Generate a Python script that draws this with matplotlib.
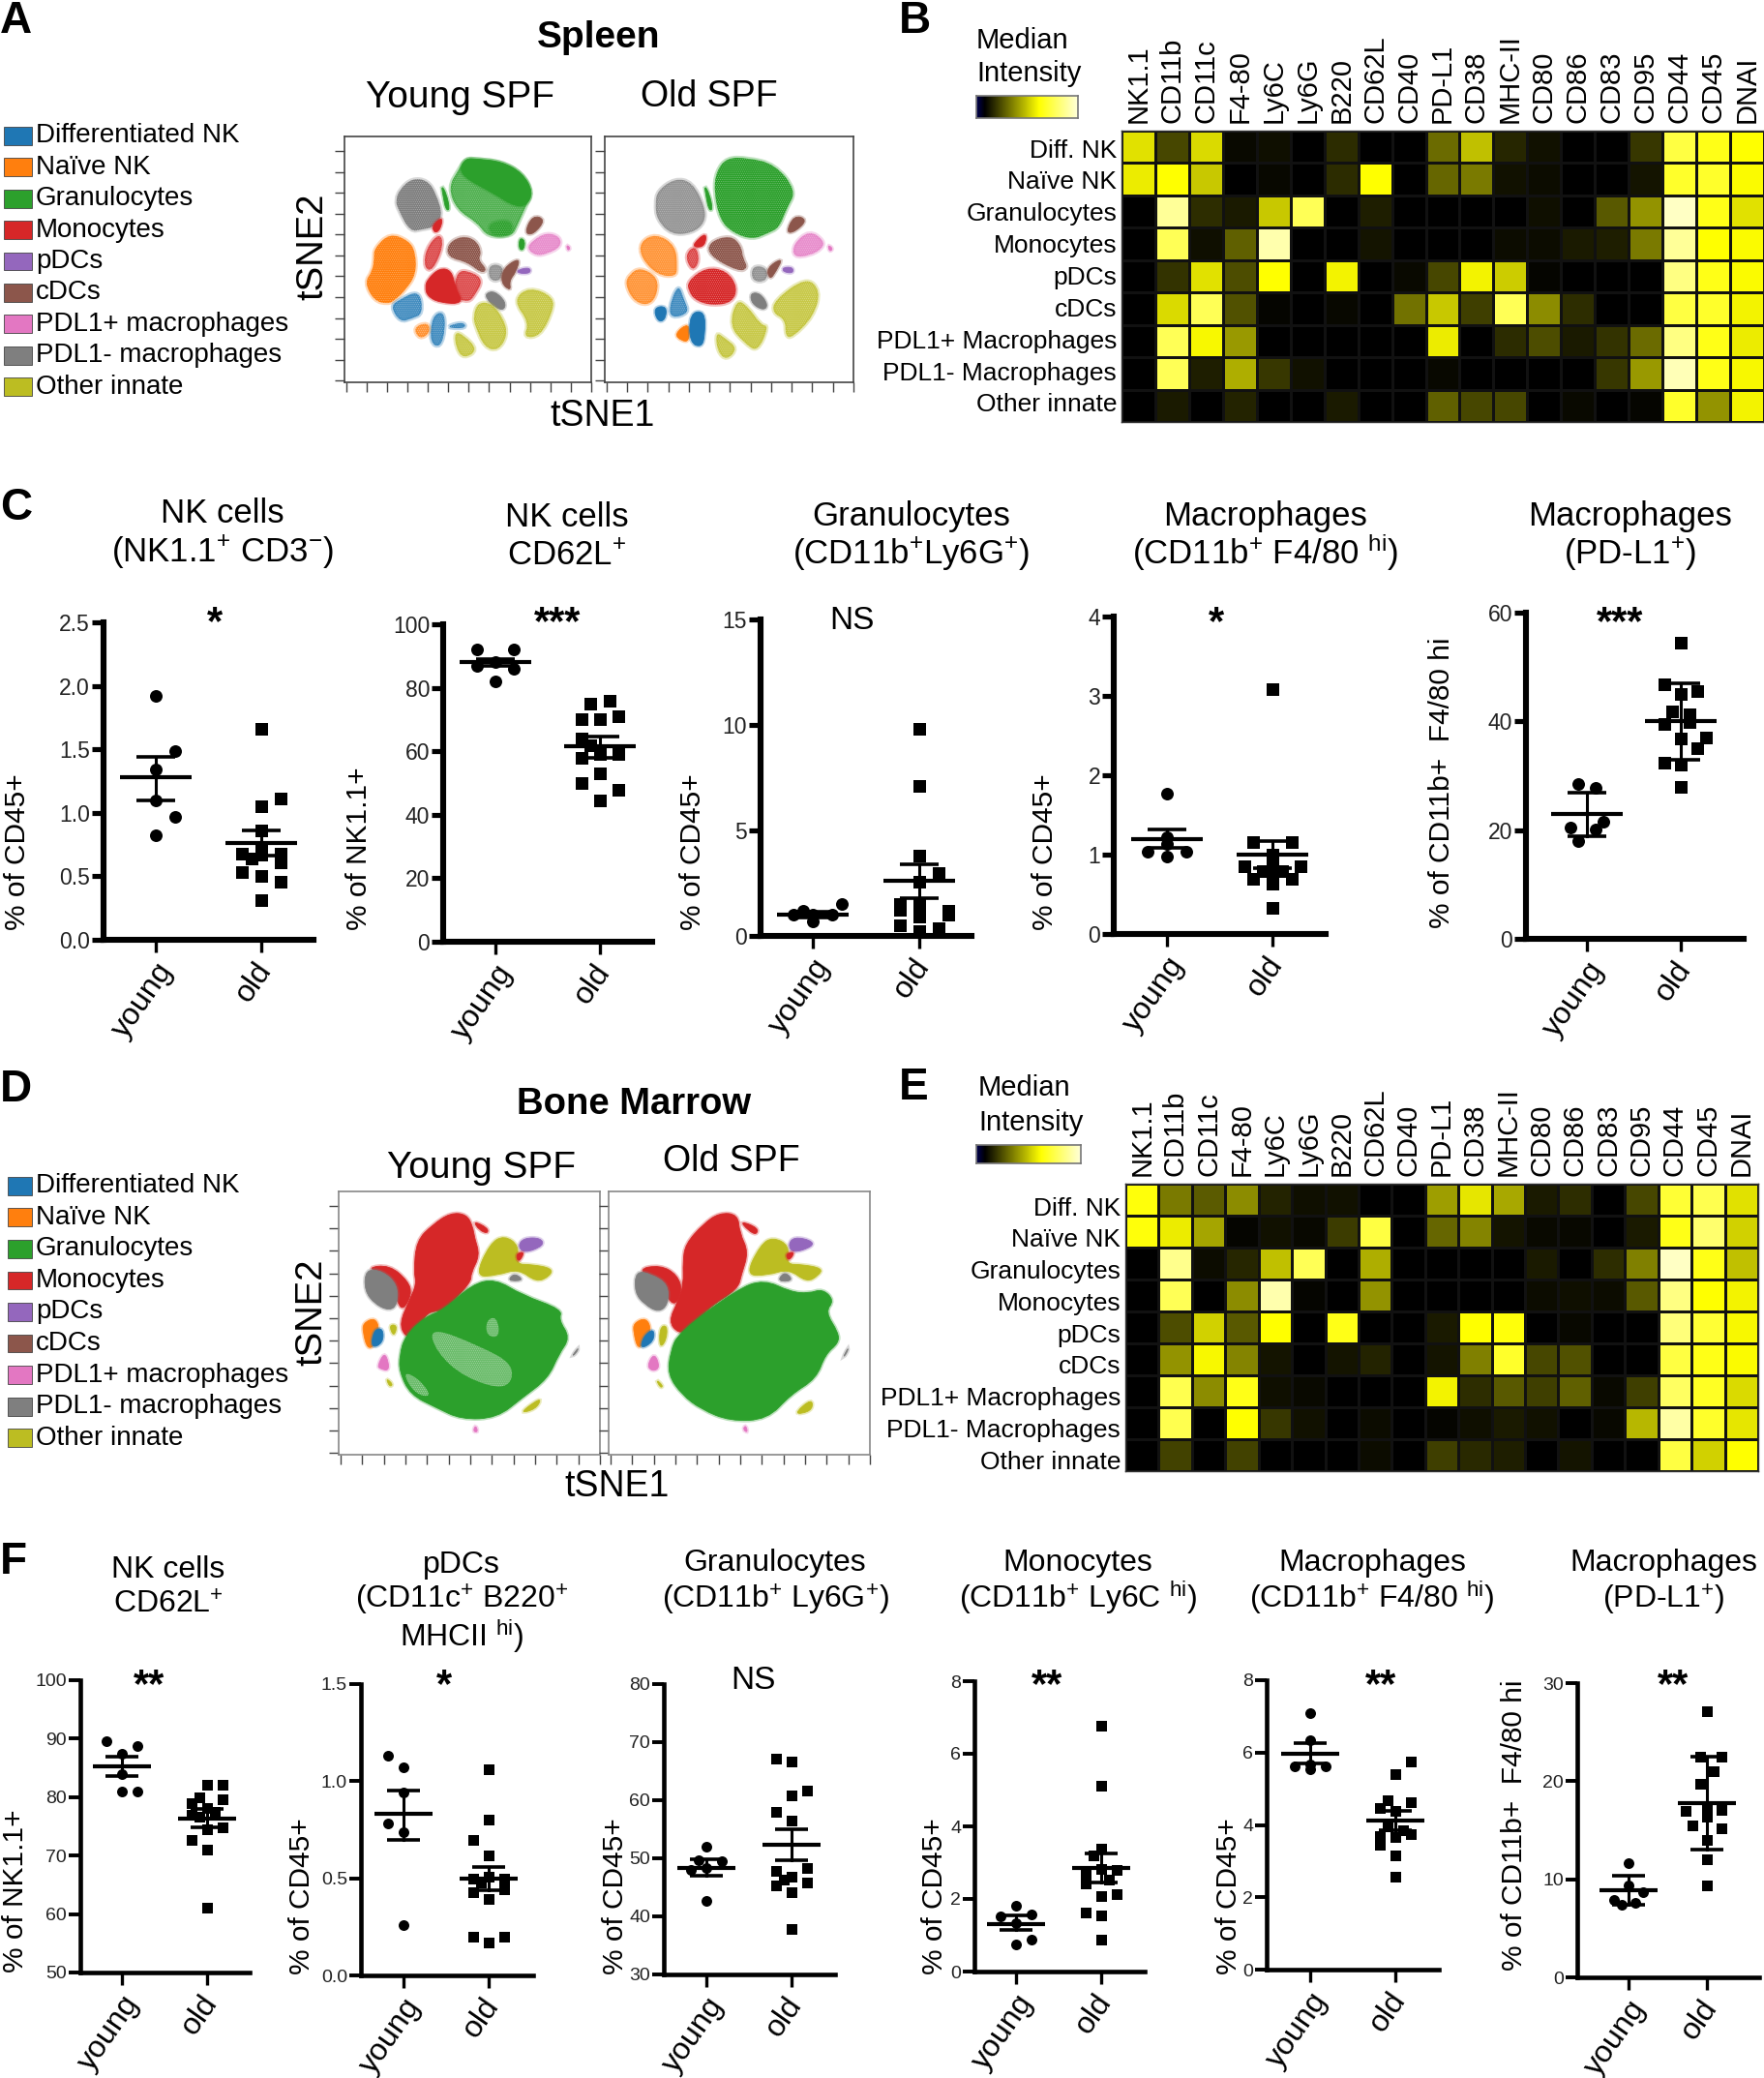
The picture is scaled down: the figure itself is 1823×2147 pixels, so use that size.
import numpy as np
import matplotlib
matplotlib.use('Agg')
import matplotlib.pyplot as plt
from matplotlib.colors import LinearSegmentedColormap
from matplotlib.patches import PathPatch
from matplotlib.path import Path
from matplotlib.transforms import ScaledTranslation

W, H = 1823, 2147
plt.rcParams['font.family'] = ['Liberation Sans', 'DejaVu Sans']
plt.rcParams['mathtext.fontset'] = 'custom'
plt.rcParams['mathtext.rm'] = 'Liberation Sans'
plt.rcParams['mathtext.default'] = 'rm'
plt.rcParams['hatch.linewidth'] = 0.1

# ---------- legend / heatmap labels
legend_labels = ['Differentiated NK', 'Naïve NK', 'Granulocytes', 'Monocytes', 'pDCs', 'cDCs',
                 'PDL1+ macrophages', 'PDL1- macrophages', 'Other innate']
cluster_colors = ['#1f77b4', '#ff7f0e', '#2ca02c', '#d62728', '#9467bd', '#8c564b', '#e377c2', '#7f7f7f', '#bcbd22']
markers = ['NK1.1', 'CD11b', 'CD11c', 'F4-80', 'Ly6C', 'Ly6G', 'B220', 'CD62L', 'CD40', 'PD-L1', 'CD38', 'MHC-II',
           'CD80', 'CD86', 'CD83', 'CD95', 'CD44', 'CD45', 'DNAI']
row_labels = ['Diff. NK', 'Naïve NK', 'Granulocytes', 'Monocytes', 'pDCs', 'cDCs',
              'PDL1+ Macrophages', 'PDL1- Macrophages', 'Other innate']

heat_b = [
    [.88, .28, .85, .04, .06, 0, .17, 0, 0, .42, .75, .15, .07, 0, 0, .22, 1.15, 1.05, 1.0],
    [.92, 1.0, .78, 0, .03, 0, .17, 1.0, 0, .40, .48, .07, .05, 0, 0, .08, 1.1, 1.1, .98],
    [0, 1.35, .18, .1, .78, 1.2, 0, .12, 0, 0, 0, 0, .06, 0, .35, .58, 1.45, 1.05, .88],
    [0, 1.2, .06, .38, 1.4, 0, 0, .08, 0, 0, 0, .05, .05, .1, .12, .48, 1.35, 1.0, .98],
    [0, .2, .88, .3, 1.0, 0, .95, 0, .04, .28, .95, .8, .02, 0, 0, 0, 1.3, 1.05, .98],
    [0, .85, 1.2, .32, .02, 0, .03, 0, .45, .78, .25, 1.2, .55, .18, 0, 0, 1.15, 1.1, .95],
    [0, 1.2, .97, .6, 0, 0, 0, 0, 0, .92, 0, .17, .3, .1, .2, .42, 1.3, 1.05, .92],
    [0, 1.2, .12, .68, .22, .07, 0, 0, 0, .03, 0, 0, 0, 0, .22, .6, 1.42, 1.05, .97],
    [0, .1, 0, .14, 0, 0, .1, 0, 0, .38, .28, .28, 0, .04, 0, .02, 1.1, .58, .95],
]
heat_e = [
    [1.02, .48, .36, .55, .14, .06, .07, 0, 0, .62, .9, .66, .1, .18, 0, .28, 1.12, 1.18, .88],
    [1.02, .92, .65, .02, .07, .03, .24, 1.15, 0, .4, .52, .08, .04, .03, 0, .1, 1.05, 1.25, .82],
    [0, 1.32, .05, .15, .75, 1.2, 0, .68, 0, 0, 0, 0, .1, 0, .18, .5, 1.45, 1.05, .75],
    [0, 1.2, 0, .55, 1.4, .02, 0, .58, 0, 0, 0, 0, .05, .06, .05, .35, 1.3, 1.0, .95],
    [0, .3, .82, .35, 1.0, 0, 1.05, 0, 0, .1, 1.0, 1.02, 0, .03, 0, 0, 1.28, 1.12, .97],
    [0, .58, .97, .52, .08, 0, .08, .14, 0, .08, .5, 1.1, .28, .32, 0, 0, 1.15, 1.05, .98],
    [0, 1.18, .55, 1.05, .06, .04, 0, 0, 0, .95, .18, .35, .25, .38, .04, .25, 1.22, 1.08, .85],
    [0, 1.18, 0, 1.0, .22, .07, 0, .05, 0, .02, .06, .1, .07, 0, .03, .72, 1.38, 1.1, .9],
    [0, .26, 0, .26, 0, 0, 0, .05, 0, .25, .16, .12, 0, .08, 0, 0, 1.15, .82, 1.0],
]

# ---------- tSNE cluster outlines: (cluster index, texture, outline)
# texture: 0 solid, 2 lightly speckled, 1 sparse
spleen_young = [
    (2, 1, [(345, 220), (375, 165), (395, 130), (430, 132), (500, 140), (560, 175), (590, 235), (570, 280), (545, 340), (530, 372), (460, 375), (430, 330), (370, 290)]),
    (2, 0, [(378, 165), (395, 130), (430, 132), (500, 140), (560, 175), (592, 235), (570, 280), (530, 275), (480, 240), (400, 195)]),
    (2, 2, [(460, 330), (530, 320), (530, 370), (470, 372)]),
    (2, 0, [(325, 212), (340, 240), (350, 290), (338, 290), (330, 245)]),
    (2, 0, [(552, 376), (568, 385), (564, 415), (550, 412)]),
    (7, 2, [(205, 225), (240, 192), (285, 198), (310, 240), (330, 310), (300, 345), (270, 350), (235, 358), (200, 290), (192, 260)]),
    (7, 0, [(455, 548), (480, 542), (512, 575), (507, 602), (480, 592), (456, 565)]),
    (1, 2, [(130, 410), (175, 362), (230, 385), (250, 420), (252, 490), (220, 540), (190, 570), (170, 582), (130, 572), (102, 515), (125, 480), (130, 440)]),
    (0, 1, [(178, 590), (200, 570), (262, 538), (272, 612), (240, 627), (205, 638)]),
    (0, 1, [(298, 620), (332, 603), (337, 660), (322, 718), (292, 702)]),
    (1, 1, [(243, 655), (287, 638), (292, 672), (262, 692)]),
    (3, 1, [(370, 475), (420, 485), (445, 510), (425, 550), (405, 578), (360, 560)]),
    (3, 0, [(285, 505), (320, 470), (355, 478), (365, 530), (390, 582), (320, 578), (285, 558), (278, 530)]),
    (3, 0, [(298, 338), (330, 310), (322, 352), (305, 362)]),
    (3, 1, [(280, 410), (320, 360), (332, 400), (300, 480), (275, 470)]),
    (5, 2, [(343, 395), (385, 370), (425, 383), (442, 420), (432, 445), (458, 475), (442, 487), (400, 452), (343, 437)]),
    (5, 0, [(590, 306), (628, 320), (592, 367), (566, 362)]),
    (7, 1, [(463, 458), (507, 463), (497, 512), (463, 507)]),
    (5, 0, [(505, 470), (554, 437), (542, 482), (522, 510), (527, 542), (498, 517)]),
    (4, 0, [(546, 476), (582, 468), (584, 487), (548, 487)]),
    (6, 1, [(590, 385), (630, 360), (670, 373), (672, 405), (630, 427), (600, 432), (573, 410)]),
    (6, 0, [(688, 398), (700, 408), (692, 417)]),
    (8, 1, [(430, 578), (470, 578), (507, 630), (517, 680), (490, 727), (450, 717), (423, 650), (418, 620)]),
    (8, 1, [(533, 570), (580, 528), (652, 560), (647, 610), (612, 682), (563, 687), (580, 640)]),
    (8, 1, [(363, 668), (390, 678), (432, 725), (390, 752), (368, 720)]),
    (0, 1, [(348, 648), (390, 638), (397, 657), (350, 657)]),
]
spleen_old = [
    (2, 2, [(1120, 170), (1150, 128), (1210, 128), (1290, 148), (1352, 230), (1322, 290), (1302, 345), (1270, 362), (1225, 382), (1170, 362), (1130, 322), (1113, 230)]),
    (2, 0, [(1085, 212), (1100, 240), (1110, 290), (1098, 290), (1090, 245)]),
    (7, 1, [(950, 230), (1000, 192), (1050, 203), (1087, 280), (1087, 330), (1050, 362), (990, 367), (948, 320), (943, 270)]),
    (7, 0, [(1218, 548), (1247, 548), (1270, 585), (1257, 602), (1223, 582)]),
    (1, 1, [(898, 390), (945, 363), (1002, 400), (1007, 470), (1002, 497), (950, 492), (903, 440)]),
    (1, 1, [(868, 490), (900, 468), (952, 500), (947, 560), (920, 587), (880, 572), (856, 520)]),
    (1, 0, [(998, 675), (1042, 638), (1042, 697), (1020, 697)]),
    (0, 0, [(1043, 610), (1087, 603), (1087, 680), (1077, 717), (1043, 702)]),
    (0, 0, [(938, 593), (977, 588), (972, 632), (950, 637)]),
    (0, 1, [(983, 590), (1010, 518), (1027, 570), (1042, 610), (990, 627)]),
    (3, 2, [(1038, 510), (1090, 468), (1150, 478), (1182, 530), (1167, 577), (1110, 587), (1060, 572), (1038, 540)]),
    (3, 0, [(1053, 395), (1092, 358), (1087, 402), (1060, 407)]),
    (3, 1, [(1028, 430), (1060, 398), (1072, 450), (1050, 482)]),
    (5, 2, [(1098, 390), (1160, 368), (1192, 400), (1197, 440), (1212, 470), (1185, 482), (1098, 432)]),
    (5, 0, [(1345, 306), (1384, 320), (1350, 357), (1321, 362)]),
    (7, 1, [(1223, 463), (1267, 468), (1267, 512), (1223, 512)]),
    (5, 0, [(1265, 470), (1314, 437), (1292, 482), (1275, 507)]),
    (6, 1, [(1343, 395), (1390, 353), (1432, 385), (1427, 410), (1390, 432), (1343, 437)]),
    (6, 0, [(1443, 398), (1458, 410), (1448, 420)]),
    (4, 0, [(1313, 468), (1342, 468), (1342, 487), (1313, 482)]),
    (8, 1, [(1178, 568), (1210, 588), (1250, 648), (1272, 650), (1240, 732), (1200, 702), (1158, 650)]),
    (8, 1, [(1288, 570), (1380, 498), (1422, 540), (1402, 620), (1340, 687), (1320, 682), (1320, 630), (1283, 610)]),
    (8, 1, [(1118, 668), (1145, 688), (1182, 720), (1150, 757), (1123, 730)]),
]
marrow_young = [
    (3, 0, [(245, 215), (290, 165), (340, 128), (385, 133), (402, 170), (407, 205), (422, 260), (397, 315), (397, 345), (320, 432), (300, 432), (270, 442), (240, 512), (213, 512), (198, 470), (225, 400), (245, 350), (238, 310)]),
    (3, 0, [(403, 153), (444, 175), (444, 193), (420, 182)]),
    (3, 0, [(106, 298), (170, 290), (222, 340), (232, 380), (207, 432), (190, 400), (160, 320)]),
    (7, 0, [(103, 303), (150, 308), (192, 350), (192, 412), (170, 432), (130, 412), (100, 370)]),
    (2, 0, [(320, 430), (400, 350), (465, 333), (540, 383), (652, 428), (642, 460), (674, 515), (642, 567), (612, 642), (540, 702), (470, 764), (370, 769), (300, 732), (228, 692), (198, 622), (198, 570), (213, 510), (270, 450)]),
    (8, 0, [(408, 327), (450, 223), (490, 198), (532, 230), (522, 288), (565, 288), (624, 300), (618, 324), (580, 344), (530, 302), (470, 322)]),
    (4, 0, [(528, 230), (545, 206), (592, 206), (601, 230), (545, 254)]),
    (3, 0, [(522, 255), (548, 248), (530, 284)]),
    (1, 0, [(96, 470), (130, 453), (142, 490), (127, 542), (108, 549), (96, 500)]),
    (0, 0, [(126, 490), (152, 486), (152, 532), (118, 549)]),
    (8, 0, [(168, 476), (192, 476), (182, 514)]),
    (6, 0, [(136, 604), (155, 561), (167, 590), (167, 618), (145, 612)]),
    (8, 0, [(533, 750), (575, 713), (594, 706), (577, 737)]),
    (8, 0, [(160, 640), (180, 660), (170, 668)]),
    (7, 0, [(678, 574), (698, 544), (692, 562)]),
    (6, 0, [(403, 806), (410, 786), (417, 808)]),
    (7, 0, [(503, 332), (520, 316), (544, 337), (510, 340)]),
]
marrow_young_holes = [
    [(280, 480), (420, 540), (520, 600), (500, 680), (380, 640), (300, 560)],
    [(205, 620), (250, 640), (290, 700), (240, 690)],
    [(440, 460), (470, 450), (478, 515), (440, 510)],
]
marrow_old = [
    (3, 0, [(995, 225), (1045, 163), (1090, 128), (1142, 133), (1147, 190), (1172, 250), (1152, 320), (1142, 365), (1060, 422), (1005, 492), (975, 502), (948, 465), (975, 400), (990, 350), (988, 280)]),
    (3, 0, [(1148, 153), (1199, 175), (1194, 197), (1170, 182)]),
    (3, 0, [(858, 303), (925, 290), (972, 320), (987, 370), (962, 422), (930, 360)]),
    (7, 0, [(856, 308), (900, 318), (947, 350), (947, 412), (920, 437), (880, 412), (853, 375)]),
    (2, 0, [(975, 500), (1140, 365), (1215, 335), (1290, 373), (1340, 378), (1380, 364), (1412, 400), (1387, 435), (1424, 500), (1424, 532), (1387, 567), (1362, 642), (1290, 692), (1225, 769), (1120, 774), (1040, 738), (985, 692), (946, 630), (953, 560)]),
    (8, 0, [(1163, 322), (1205, 228), (1240, 203), (1287, 230), (1277, 288), (1320, 288), (1379, 300), (1369, 322), (1335, 344), (1285, 302), (1225, 322)]),
    (4, 0, [(1283, 225), (1300, 203), (1347, 213), (1354, 232), (1295, 254)]),
    (3, 0, [(1275, 255), (1303, 248), (1285, 279)]),
    (1, 0, [(850, 470), (885, 453), (900, 490), (882, 527), (862, 552), (850, 500)]),
    (0, 0, [(878, 510), (907, 486), (907, 527), (868, 552)]),
    (8, 0, [(923, 483), (944, 476), (942, 522), (923, 549)]),
    (6, 0, [(887, 604), (908, 561), (924, 607), (905, 620)]),
    (8, 0, [(1303, 747), (1349, 704), (1352, 737), (1320, 752)]),
    (8, 0, [(912, 643), (933, 665), (925, 671)]),
    (7, 0, [(1436, 578), (1452, 544), (1448, 562)]),
    (6, 0, [(1156, 800), (1164, 786), (1170, 810)]),
    (7, 0, [(1256, 332), (1275, 311), (1297, 337), (1265, 342)]),
]

# ---------- dot plots: values and sideways jitter steps, one pair per group
c1_young = [1.92, 1.49, 1.34, 1.10, 0.97, 0.82]
c1_young_dx = [0, 1, 0, 0, 1, 0]
c1_old = [1.66, 1.11, 1.05, .86, .72, .68, .68, .67, .64, .61, .53, .50, .46, .31]
c1_old_dx = [0, 1, 0, 0, 0, -1, 1, 0, -.5, 1, -1, 0, 1, 0]
c1_stats = [(1.28, 1.44, 1.10), (.76, .86, .66)]

c2_young = [92, 92, 87, 88, 86, 82]
c2_young_dx = [-1, 1, -1, 0, 1, 0]
c2_old = [76, 75, 70, 70, 71, 64, 58, 59, 59, 62, 53, 50, 48, 44.6]
c2_old_dx = [.5, -.5, -1, 0, 1, -1, -1, 0, 1, -.5, 0, -1, 1, 0]
c2_stats = [(88, 89, 87), (61.5, 64.5, 58)]

c3_young = [1.5, 1.2, .7, 1.0, 1.0, 1.0]
c3_young_dx = [1.5, -.5, 0, -1, 1, 0]
c3_old = [9.8, 7.1, 3.8, 3.0, 2.55, 1.5, 1.5, 1.2, .9, .5, 1.0, .25, .35, 1.25]
c3_old_dx = [0, 0, 0, 1, 0, -1, 0, 1.5, 0, -1, 1.5, 0, 1, -1]
c3_stats = [(1.0, 1.15, .85), (2.6, 3.4, 1.8)]

c4_young = [1.77, 1.22, 1.04, 1.04, .98, 1.14]
c4_young_dx = [0, 0, -1, 1, 0, 0]
c4_old = [3.08, 1.16, 1.16, 1.0, .85, .85, .87, .79, .79, .69, .69, .63, .33, .75]
c4_old_dx = [0, -1, 1, 0, -1.5, 1.5, 0, -.5, .5, -1, 1, 0, 0, 0]
c4_stats = [(1.2, 1.32, 1.08), (1.0, 1.17, .83)]

c5_young = [28.5, 27.8, 21.5, 20.5, 20.2, 18]
c5_young_dx = [-.5, .5, 1, -1, .5, -.5]
c5_old = [54.5, 46.8, 45.6, 45, 41.9, 41.3, 39.8, 39.5, 36.8, 37, 35, 32.4, 32, 28]
c5_old_dx = [0, -1, 1, 0, -.5, .5, .5, -1, 0, 1.5, 1, -1, 0, 0]
c5_stats = [(22.9, 26.8, 18.8), (40, 47, 33)]

f1_young = [89.6, 88.8, 87.5, 84, 80.9, 81]
f1_young_dx = [-1, 1, 0, 0, 0, 1]
f1_old = [82.2, 82.1, 79.6, 80, 79, 78.1, 77, 77.5, 76.7, 74.8, 74.5, 72.7, 71, 61.1]
f1_old_dx = [1, 0, 1, -.5, -1, 0, -1, .5, -.5, 1, 0, -1, 0, 0]
f1_stats = [(85.3, 87, 83.6), (76.4, 78, 74.8)]

f2_young = [1.13, 1.07, .94, .78, .74, .26]
f2_young_dx = [-1, 0, 0, -1, 0, 0]
f2_old = [1.06, .80, .70, .62, .50, .50, .51, .48, .445, .43, .395, .20, .20, .17]
f2_old_dx = [0, 0, -1, 0, -1, 1, 0, -.5, 1, -1, 0, -1, 1, 0]
f2_stats = [(.83, .95, .70), (.50, .56, .44)]

f3_young = [52, 49.5, 49.7, 48.3, 48, 42.7]
f3_young_dx = [0, 1, -.5, 0, -1, 0]
f3_old = [67.2, 66.7, 61.7, 60.9, 58, 56.5, 47.8, 48.3, 46.9, 45.8, 45.3, 46.4, 44.2, 37.9]
f3_old_dx = [-1, 0, 1, 0, -1, 0, -1, 1, 0, 1, -1, -.5, 0, 0]
f3_stats = [(48.3, 49.8, 47), (52.3, 55, 49.7)]

f4_young = [1.82, 1.58, 1.51, 1.33, .89, .74]
f4_young_dx = [0, 1, -1, 0, 1, 0]
f4_old = [6.78, 5.13, 3.38, 3.2, 2.8, 2.84, 2.67, 2.53, 2.42, 2.09, 2.13, 1.62, 1.56, .87]
f4_old_dx = [0, 0, 0, -.5, 1, 0, -1, .5, -1, 0, 1, -1, 0, 0]
f4_stats = [(1.32, 1.55, 1.15), (2.85, 3.25, 2.45)]

f5_young = [7.08, 6.34, 5.62, 5.54, 5.62, 5.67]
f5_young_dx = [0, 0, -1, 0, 1, 0]
f5_old = [5.76, 5.4, 4.69, 4.64, 4.46, 4.38, 3.97, 3.84, 3.75, 3.7, 3.66, 3.44, 3.17, 2.57]
f5_old_dx = [1, 0, -.5, 1, -1, 0, -.5, .5, 1, -1, 0, -1, 0, 0]
f5_stats = [(5.97, 6.25, 5.7), (4.13, 4.4, 3.85)]

f6_young = [11.6, 9.4, 8.7, 7.9, 7.4, 7.6]
f6_young_dx = [0, 0, 1, -1, -.5, .5]
f6_old = [27.1, 22.5, 22.5, 21, 19.7, 17, 17.1, 16.4, 15.5, 15.2, 14, 12, 9.4, 17.4]
f6_old_dx = [0, -.5, 1, .5, -.5, -1.5, 1, 0, -1, 1, 0, 0, 0, 0]
f6_stats = [(8.9, 10.4, 7.4), (17.8, 22.5, 13)]

groups = ['young', 'old']

fig = plt.figure(figsize=(W / 100, H / 100), dpi=100, facecolor='white')


def pax(x0, y0, x1, y1, **kw):
    return fig.add_axes([x0 / W, 1 - y1 / H, (x1 - x0) / W, (y1 - y0) / H], **kw)


def ctext(x, y, s, size, ha='center', weight='normal', color='black'):
    fig.text(x / W, 1 - (y + 0.36 * size * 100 / 72) / H, s, fontsize=size, ha=ha, va='baseline',
             fontweight=weight, color=color)


def rtext(x, y, s, size):
    fig.text(x / W, 1 - y / H, s, fontsize=size, rotation=90, ha='center', va='center')


def star(x, y, s):
    fig.text(x / W, 1 - (y + 20) / H, s, fontsize=30, ha='center', va='baseline', fontweight='bold')


# ---------- panel letters and headings
for s, x, y in [('A', 0, 17), ('B', 929, 17), ('C', 0, 521), ('D', 0, 1122), ('E', 929, 1120), ('F', 0, 1610)]:
    ctext(x, y, s, 33, ha='left', weight='bold')
ctext(619, 35, 'Spleen', 28, weight='bold')
ctext(655, 1137, 'Bone Marrow', 27.5, weight='bold')
ctext(475, 97, 'Young SPF', 28)
ctext(733, 97, 'Old SPF', 27)
ctext(498, 1203, 'Young SPF', 28)
ctext(756, 1197, 'Old SPF', 27)
ctext(623, 426, 'tSNE1', 27)
ctext(638, 1533, 'tSNE1', 27)
rtext(323, 255, 'tSNE2', 27.5)
rtext(322, 1356, 'tSNE2', 27.5)


# ---------- legends
def legend(ypx0, ypx1, x0):
    ax = pax(0, ypx0, 300, ypx1)
    ax.set_xlim(0, 300)
    ax.set_ylim(8.5, -0.5)
    ax.axis('off')
    ax.barh(range(9), [33 - x0] * 9, left=x0, height=0.58, color=cluster_colors, edgecolor='#444444', linewidth=0.6)
    for i, lab in enumerate(legend_labels):
        ax.text(37, i, lab, fontsize=20, va='center', ha='left', clip_on=False)


legend(140 - 16, 400 + 16, 4)
legend(1225 - 16, 1486 + 16, 8)


# ---------- tSNE maps
def blob(pts):
    """Closed smooth outline through the midpoints of the read points."""
    p = np.array(pts, float)
    mid = (p + np.roll(p, -1, axis=0)) / 2
    verts, codes = [mid[-1]], [Path.MOVETO]
    for a, b in zip(p, mid):
        verts += [a, b]
        codes += [Path.CURVE3, Path.CURVE3]
    return Path(verts, codes)


HATCH = {1: '.' * 8, 2: '.' * 8}
ALPHA = {1: .82, 2: 1.0}


def tsne(box, xlim, ylim, clusters, holes=(), edge='#444444'):
    ax = pax(*box)
    ax.set_xlim(*xlim)
    ax.set_ylim(*ylim)
    for c, tex, pts in clusters:
        path = blob(pts)
        col = cluster_colors[c]
        ax.add_patch(PathPatch(path, facecolor='none', edgecolor=col, alpha=.3, linewidth=3))
        if tex:
            ax.add_patch(PathPatch(path, facecolor=col, edgecolor='white', hatch=HATCH[tex], linewidth=0, alpha=ALPHA[tex]))
        else:
            ax.add_patch(PathPatch(path, facecolor=col, edgecolor=col, linewidth=.6))
    for pts in holes:
        ax.add_patch(PathPatch(blob(pts), facecolor='white', edgecolor='white', alpha=.3, linewidth=0))
        ax.add_patch(PathPatch(blob(pts), facecolor='none', edgecolor='white', hatch='.' * 8, linewidth=0))
    ax.set_xticks(np.linspace(xlim[0] + 5, xlim[1], 13))
    ax.set_yticks(np.linspace(ylim[0] - 5, ylim[1] + 45, 12))
    ax.tick_params(labelbottom=False, labelleft=False, length=7, width=1, color='#444444')
    for sp in ax.spines.values():
        sp.set_color(edge)
        sp.set_linewidth(1.2)
    return ax


tsne((356, 141, 611, 395), (44, 760), (825, 62), spleen_young)
tsne((625, 141, 882, 395), (797, 1517), (825, 62), spleen_old)
tsne((350, 1231, 620, 1503), (28, 757), (878, 62), marrow_young, marrow_young_holes, '#888888')
tsne((629, 1231, 899, 1503), (780, 1512), (878, 62), marrow_old, (), '#888888')

# ---------- heatmaps
hm_cmap = LinearSegmentedColormap.from_list('hm', [(0, 'black'), (1 / 1.5, '#ffff00'), (1, '#ffffd8')])
bar_cmap = LinearSegmentedColormap.from_list('bar', [(0, '#000050'), (.08, 'black'), (.62, '#ffff00'), (1, '#ffffd8')])


def heat(box, data, cbox, mx, my0, my1, row_first, row_last):
    ax = pax(*box)
    ax.pcolormesh(np.array(data), cmap=hm_cmap, vmin=0, vmax=1.5, edgecolors='#111111', linewidth=0.8)
    ax.set_ylim(9, 0)
    ax.set_xticks(np.arange(19) + .5)
    ax.set_xticklabels(markers, rotation=90, fontsize=21, ha='center', va='bottom')
    ax.set_yticks(np.linspace(row_first, row_last, 9))
    ax.set_yticklabels(row_labels, fontsize=19)
    ax.xaxis.tick_top()
    ax.tick_params(axis='x', length=0, pad=5.5)
    ax.tick_params(axis='y', length=0, pad=3.5)
    for sp in ax.spines.values():
        sp.set_color('#333333')
        sp.set_linewidth(1)
    cax = pax(*cbox)
    cax.imshow(np.linspace(0, 1, 128)[None, :], aspect='auto', cmap=bar_cmap)
    cax.set_xticks([])
    cax.set_yticks([])
    for sp in cax.spines.values():
        sp.set_color('#777777')
        sp.set_linewidth(1.2)
    ctext(mx, my0, 'Median', 21, ha='left')
    ctext(mx, my1, 'Intensity', 21, ha='left')


heat((1159, 135, 1823, 436), heat_b, (1009, 99, 1114, 122), 1009, 39, 74, .54, 8.4)
heat((1163, 1223, 1817, 1520), heat_e, (1009, 1183, 1117, 1202), 1011, 1122, 1157, .7, 8.64)


# ---------- dot plots
def dots(geom, ylim, yticks, ytick_labs, young, young_dx, old, old_dx, stats, big=True):
    sx, ex, ytop, ybot, yx, ox = geom
    ax = pax(sx, ytop, ex, ybot)
    span = ox - yx
    ax.set_xlim((sx - yx) / span, (ex - yx) / span)
    ax.set_ylim(*ylim)
    ms = 13 if big else 11
    lw = 4.4 if big else 3.3
    step = 0.18
    ax.scatter(np.array(young_dx) * step, young, marker='o', s=(ms * .72) ** 2, color='black', clip_on=False, zorder=3, linewidths=0)
    ax.scatter(1 + np.array(old_dx) * step, old, marker='s', s=(ms * .72) ** 2, color='black', clip_on=False, zorder=3, linewidths=0)
    mean_half = (37 if big else 30) / span
    cap_half = (20 if big else 17) / span
    for i, (m, hi, lo) in enumerate(stats):
        ax.plot([i - mean_half, i + mean_half], [m, m], color='black', lw=3, zorder=4, solid_capstyle='butt')
        ax.plot([i, i], [lo, hi], color='black', lw=2.2, zorder=4)
        for v in (hi, lo):
            ax.plot([i - cap_half, i + cap_half], [v, v], color='black', lw=2.6, zorder=4, solid_capstyle='butt')
    for s in ('top', 'right'):
        ax.spines[s].set_visible(False)
    for s in ('left', 'bottom'):
        ax.spines[s].set_linewidth(lw)
    ax.set_yticks(yticks)
    ax.set_yticklabels(ytick_labs, fontsize=16.5 if big else 14, color='#222222')
    ax.set_xticks([0, 1])
    ax.set_xticklabels(groups, rotation=55, ha='center', va='top', fontsize=23)
    ax.tick_params(axis='y', length=9, width=lw * .85, pad=1)
    ax.tick_params(axis='x', length=9, width=2.4, pad=4)
    for lab, dx in zip(ax.get_xticklabels(), (-13, -8)):
        lab.set_transform(lab.get_transform() + ScaledTranslation(dx / 100, 0, fig.dpi_scale_trans))
    return ax


dots((107, 324, 643, 971, 161, 270), (0, 2.5), [0, .5, 1, 1.5, 2, 2.5], ['0.0', '0.5', '1.0', '1.5', '2.0', '2.5'], c1_young, c1_young_dx, c1_old, c1_old_dx, c1_stats)
dots((458, 674, 645, 973, 512, 620), (0, 100), [0, 20, 40, 60, 80, 100], ['0', '20', '40', '60', '80', '100'], c2_young, c2_young_dx, c2_old, c2_old_dx, c2_stats)
dots((786, 1004, 640, 967, 840, 950), (0, 15), [0, 5, 10, 15], ['0', '5', '10', '15'], c3_young, c3_young_dx, c3_old, c3_old_dx, c3_stats)
dots((1151, 1370, 637, 965, 1206, 1315), (0, 4), [0, 1, 2, 3, 4], ['0', '1', '2', '3', '4'], c4_young, c4_young_dx, c4_old, c4_old_dx, c4_stats)
dots((1577, 1802, 633, 970, 1640, 1737), (0, 60), [0, 20, 40, 60], ['0', '20', '40', '60'], c5_young, c5_young_dx, c5_old, c5_old_dx, c5_stats)

dots((83, 258, 1736, 2038, 126, 214), (50, 100), [50, 60, 70, 80, 90, 100], ['50', '60', '70', '80', '90', '100'], f1_young, f1_young_dx, f1_old, f1_old_dx, f1_stats, big=False)
dots((373, 551, 1740, 2041, 417, 505), (0, 1.5), [0, .5, 1, 1.5], ['0.0', '0.5', '1.0', '1.5'], f2_young, f2_young_dx, f2_old, f2_old_dx, f2_stats, big=False)
dots((686, 863, 1740, 2040, 730, 818), (30, 80), [30, 40, 50, 60, 70, 80], ['30', '40', '50', '60', '70', '80'], f3_young, f3_young_dx, f3_old, f3_old_dx, f3_stats, big=False)
dots((1007, 1183, 1737, 2037, 1050, 1138), (0, 8), [0, 2, 4, 6, 8], ['0', '2', '4', '6', '8'], f4_young, f4_young_dx, f4_old, f4_old_dx, f4_stats, big=False)
dots((1309, 1487, 1736, 2035, 1354, 1442), (0, 8), [0, 2, 4, 6, 8], ['0', '2', '4', '6', '8'], f5_young, f5_young_dx, f5_old, f5_old_dx, f5_stats, big=False)
dots((1630, 1818, 1739, 2043, 1683, 1764), (0, 30), [0, 10, 20, 30], ['0', '10', '20', '30'], f6_young, f6_young_dx, f6_old, f6_old_dx, f6_stats, big=False)

# y labels
for x, y, s in [(18, 880, '% of CD45+'), (371, 877, '% of NK1.1+'), (716, 880, '% of CD45+'), (1080, 880, '% of CD45+'),
                (1490, 809, '% of CD11b+  F4/80 hi'), (16, 1954, '% of NK1.1+'), (312, 1959, '% of CD45+'),
                (636, 1959, '% of CD45+'), (966, 1959, '% of CD45+'), (1270, 1959, '% of CD45+'),
                (1565, 1886, '% of CD11b+  F4/80 hi')]:
    rtext(x, y, s, 21.5)

# significance marks
for x, y, s in [(222, 635, '*'), (576, 635, '***'), (1257, 635, '*'), (1674, 635, '***'),
                (154, 1733, '**'), (459, 1733, '*'), (1082, 1733, '**'), (1427, 1733, '**'), (1729, 1733, '**')]:
    star(x, y, s)
ctext(880, 638, 'NS', 24)
ctext(778, 1733, 'NS', 24)

# panel titles
c_titles = [
    (230, 527, 'NK cells'), (230, 568, r'(NK1.1$^{+}$ CD3$^{-}$)'),
    (586, 531, 'NK cells'), (586, 571, r'CD62L$^{+}$'),
    (942, 530, 'Granulocytes'), (942, 571, r'(CD11b$^{+}$Ly6G$^{+}$)'),
    (1308, 530, 'Macrophages'), (1308, 571, r'(CD11b$^{+}$ F4/80 $^{hi}$)'),
    (1685, 530, 'Macrophages'), (1685, 571, r'(PD-L1$^{+}$)'),
]
for x, y, s in c_titles:
    ctext(x, y, s, 25)
f_titles = [
    (174, 1619, 'NK cells'), (174, 1655, r'CD62L$^{+}$'),
    (477, 1613, 'pDCs'), (477, 1650, r'(CD11c$^{+}$ B220$^{+}$'), (477, 1690, r'MHCII $^{hi}$)'),
    (801, 1612, 'Granulocytes'), (801, 1650, r'(CD11b$^{+}$ Ly6G$^{+}$)'),
    (1114, 1612, 'Monocytes'), (1114, 1650, r'(CD11b$^{+}$ Ly6C $^{hi}$)'),
    (1418, 1612, 'Macrophages'), (1418, 1650, r'(CD11b$^{+}$ F4/80 $^{hi}$)'),
    (1719, 1612, 'Macrophages'), (1719, 1650, r'(PD-L1$^{+}$)'),
]
for x, y, s in f_titles:
    ctext(x, y, s, 23)

fig.savefig('out.png', dpi=100, facecolor='white')
